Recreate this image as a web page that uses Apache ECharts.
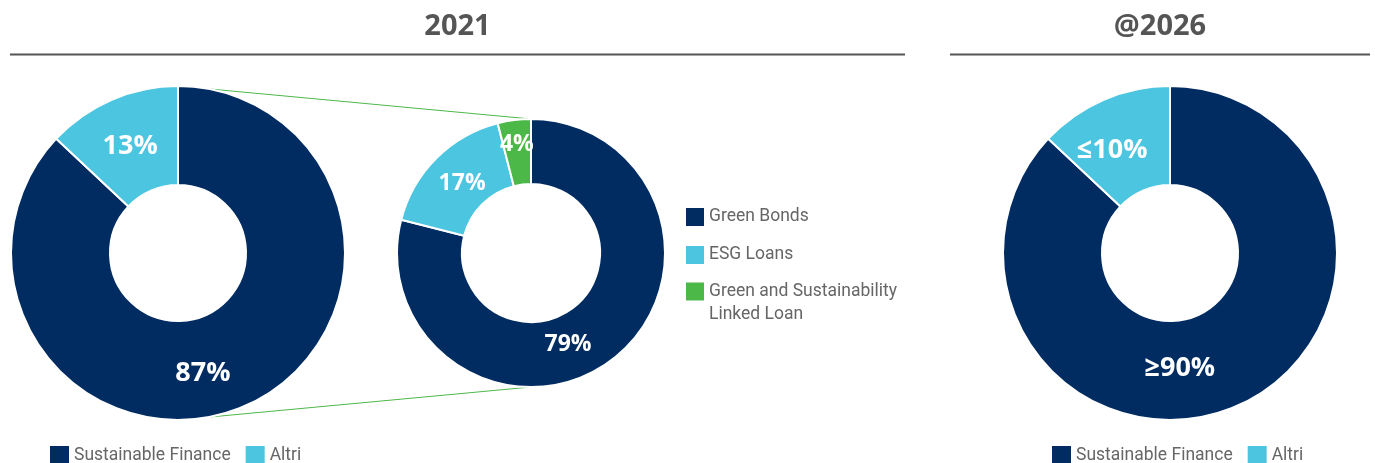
<!DOCTYPE html>
<html><head><meta charset="utf-8">
<script src="https://cdn.jsdelivr.net/npm/echarts@6/dist/echarts.min.js"></script>
<style>html,body{margin:0;padding:0;background:#fff}#c{width:1375px;height:463px}</style>
</head><body><div id="c"></div>
<script>
// ---- data ----
const titles = ['2021', '@2026'];
const financeCategories = ['Sustainable Finance', 'Altri'];
const finance2021Values = [87, 13];
const finance2021Labels = ['87%', '13%'];
const breakdownCategories = ['Green Bonds', 'ESG Loans', 'Green and Sustainability Linked Loan'];
const breakdownLegendLines = ['Green and Sustainability', 'Linked Loan'];
const breakdownValues = [79, 17, 4];
const breakdownLabels = ['79%', '17%', '4%'];
const finance2026Values = [87, 13];
const finance2026Labels = ['≥90%', '≤10%'];

// ---- style / layout ----
const NAVY = '#002c62', LIGHT = '#4cc5e0', GREEN = '#4cb848';
const colorsFinance = [NAVY, LIGHT];
const colorsBreakdown = [NAVY, LIGHT, GREEN];
const L = {cx: 178, cy: 253, r0: 68, r: 167};
const M = {cx: 531, cy: 253, r0: 69, r: 134};
const R = {cx: 1170, cy: 253, r0: 68, r: 167};
const offsL = [[-23, 10], [0, 4]];
const offsM = [[-27, 9], [5, 4], [-1, -5]];
const offsR = [[-38, 5], [-10, 8]];

function items(names, values, labels, colors) {
  return names.map((n, i) => ({
    name: n, value: values[i],
    itemStyle: {color: colors[i]},
    label: {formatter: labels[i]}
  }));
}
function pieSeries(G, data, offs, fs) {
  return {
    type: 'pie', center: [G.cx, G.cy], radius: [G.r0, G.r],
    startAngle: 90, clockwise: true, silent: true, animation: false,
    avoidLabelOverlap: false,
    itemStyle: {borderColor: '#fff', borderWidth: 2},
    label: {show: true, position: 'inside', color: '#fff', fontFamily: 'Open Sans', fontWeight: 'bold', fontSize: fs},
    labelLine: {show: false},
    labelLayout: p => ({dx: offs[p.dataIndex][0], dy: offs[p.dataIndex][1]}),
    emphasis: {disabled: true},
    data: data
  };
}
const legendText = {color: '#666', fontFamily: 'Roboto', fontSize: 17.5};
const legendBase = {icon: 'rect', selectedMode: false, padding: 0, itemStyle: {borderWidth: 0}};
const option = {
  animation: false,
  legend: [
    Object.assign({data: financeCategories, left: 50, top: 446, orient: 'horizontal', itemWidth: 19, itemHeight: 19, itemGap: 15, textStyle: legendText}, legendBase),
    Object.assign({data: breakdownCategories.slice(0, 2), left: 686, top: 205.5, orient: 'vertical', itemWidth: 18, itemHeight: 18, itemGap: 15,
     textStyle: Object.assign({lineHeight: 23}, legendText)}, legendBase),
    Object.assign({data: breakdownCategories.slice(2), left: 686, top: 263.5, orient: 'vertical', itemWidth: 18, itemHeight: 18,
     formatter: () => '{sp| }\n{t|' + breakdownLegendLines[0] + '}\n{t|' + breakdownLegendLines[1] + '}',
     textStyle: Object.assign({rich: {sp: {lineHeight: 23, fontSize: 10}, t: Object.assign({lineHeight: 23}, legendText)}}, legendText)}, legendBase),
    Object.assign({data: financeCategories, left: 1052, top: 446, orient: 'horizontal', itemWidth: 19, itemHeight: 19, itemGap: 15, textStyle: legendText}, legendBase)
  ],
  graphic: [
    {type: 'text', style: {text: titles[0], x: 457.5, y: 27, align: 'center', verticalAlign: 'middle', font: 'bold 29px "Open Sans"', fill: '#555'}},
    {type: 'text', style: {text: titles[1], x: 1160, y: 27, align: 'center', verticalAlign: 'middle', font: 'bold 29px "Open Sans"', fill: '#555'}},
    {type: 'line', shape: {x1: 10, y1: 54.5, x2: 905, y2: 54.5}, style: {stroke: '#555', lineWidth: 2}},
    {type: 'line', shape: {x1: 950, y1: 54.5, x2: 1370, y2: 54.5}, style: {stroke: '#555', lineWidth: 2}},
    {type: 'line', shape: {x1: L.cx, y1: L.cy - L.r, x2: M.cx, y2: M.cy - M.r}, style: {stroke: GREEN, lineWidth: 1}},
    {type: 'line', shape: {x1: L.cx, y1: L.cy + L.r, x2: M.cx, y2: M.cy + M.r}, style: {stroke: GREEN, lineWidth: 1}}
  ],
  series: [
    pieSeries(L, items(financeCategories, finance2021Values, finance2021Labels, colorsFinance), offsL, 27),
    pieSeries(M, items(breakdownCategories, breakdownValues, breakdownLabels, colorsBreakdown), offsM, 23),
    pieSeries(R, items(financeCategories, finance2026Values, finance2026Labels, colorsFinance), offsR, 27)
  ]
};
const chart = echarts.init(document.getElementById('c'), null, {renderer: 'canvas'});
chart.setOption(option);
</script></body></html>
